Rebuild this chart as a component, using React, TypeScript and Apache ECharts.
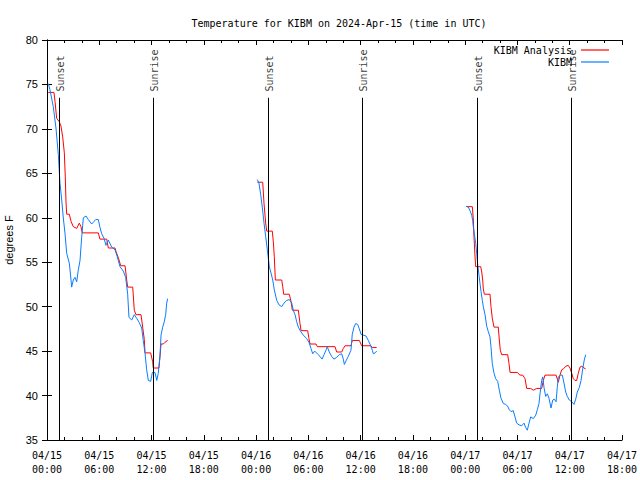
import React, { useEffect, useRef } from "react";
import * as echarts from "echarts";

// hours since 2024-04-15 00:00 UTC, temperature in °F
const analysisDay1: [number, number][] = [
  [0.15, 74.1], [0.8, 74.1], [0.92, 73.1], [1.11, 71.2], [1.41, 70.8], [1.61, 70.3], [1.8, 69.1],
  [1.99, 67.3], [2.1, 64.6], [2.18, 61.8], [2.26, 60.4], [2.56, 60.4], [2.76, 59.6], [3.02, 59.0],
  [3.41, 58.8], [3.71, 59.4], [3.9, 59.0], [4.05, 58.3], [5.89, 58.3], [6.08, 57.6], [6.85, 57.6],
  [7.04, 56.6], [7.81, 56.6], [7.92, 56.2], [8.19, 55.5], [8.46, 54.6], [8.96, 54.6], [9.15, 53.0],
  [9.26, 52.2], [9.84, 52.2], [10.02, 49.6], [10.21, 49.1], [10.79, 49.1], [10.98, 47.7], [11.17, 46.3],
  [11.25, 44.8], [11.9, 44.8], [12.13, 43.8], [12.2, 43.1], [12.85, 43.1], [12.97, 44.4], [13.09, 45.8],
  [13.35, 45.8], [13.55, 46.0], [13.85, 46.2],
];
const analysisDay2: [number, number][] = [
  [24.14, 64.0], [24.76, 64.0], [24.91, 61.6], [25.1, 59.4], [25.22, 58.5], [25.86, 58.5], [25.98, 57.3],
  [26.09, 55.6], [26.21, 53.0], [26.94, 53.0], [27.05, 52.3], [27.17, 51.4], [27.81, 51.4], [28.01, 50.6],
  [28.16, 49.6], [28.85, 49.6], [29.04, 48.1], [29.16, 47.3], [29.92, 47.3], [30.07, 46.4], [30.19, 45.8],
  [30.88, 45.8], [31.03, 45.5], [33.06, 45.5], [33.25, 44.9], [33.83, 44.9], [34.01, 45.3], [34.21, 45.6],
  [34.89, 45.6], [35.04, 46.2], [35.85, 46.2], [36.12, 45.6], [37.19, 45.6], [37.34, 45.4], [37.84, 45.4],
];
const analysisDay3: [number, number][] = [
  [48.17, 61.25], [48.82, 61.25], [48.93, 59.9], [49.01, 57.9], [49.13, 55.6], [49.21, 54.5], [49.78, 54.5],
  [49.9, 53.9], [50.01, 53.0], [50.08, 52.0], [50.2, 51.4], [50.85, 51.4], [50.96, 50.0], [51.11, 48.7],
  [51.31, 47.7], [51.8, 47.7], [51.92, 46.25], [52.03, 45.1], [52.19, 44.6], [52.88, 44.6], [53.03, 43.6],
  [53.15, 42.6], [53.98, 42.6], [54.29, 42.3], [54.6, 42.3], [54.87, 41.9], [55.06, 40.8], [55.52, 40.8],
  [55.82, 40.6], [56.21, 40.8], [56.78, 40.8], [56.97, 41.7], [57.16, 42.3], [58.43, 42.3], [58.69, 41.5],
  [58.88, 42.3], [59.08, 42.9], [59.26, 43.0], [59.57, 43.3], [59.83, 43.4], [60.03, 43.1], [60.23, 42.5],
  [60.41, 41.9], [60.61, 41.7], [60.8, 41.7], [60.98, 42.5], [61.18, 43.2], [61.38, 43.3], [61.64, 43.1],
  [61.83, 43.0],
];

const obsDay1: [number, number][] = [
  [0.15, 75.1], [0.34, 74.4], [0.72, 72.5], [1.03, 70.1], [1.3, 67.1], [1.49, 63.9], [1.69, 62.0],
  [1.85, 60.2], [2.07, 58.2], [2.26, 56.0], [2.56, 54.9], [2.76, 53.0], [2.83, 52.2], [3.02, 53.0],
  [3.21, 53.3], [3.41, 52.8], [3.59, 54.1], [3.79, 55.2], [3.98, 57.8], [4.17, 60.0], [4.48, 60.2],
  [4.74, 59.8], [5.13, 59.3], [5.32, 59.5], [5.59, 59.8], [5.89, 59.8], [6.08, 58.9], [6.28, 58.2],
  [6.54, 57.7], [6.77, 56.9], [7.04, 57.5], [7.42, 56.7], [7.81, 56.4], [8.07, 55.6], [8.38, 54.5],
  [8.76, 54.0], [9.03, 53.3], [9.26, 51.4], [9.41, 48.8], [9.72, 48.5], [10.02, 49.1], [10.29, 48.7],
  [10.59, 48.2], [10.87, 47.6], [11.05, 46.2], [11.25, 44.8], [11.44, 42.9], [11.63, 41.7], [11.9, 41.6],
  [12.09, 42.6], [12.4, 42.6], [12.6, 41.7], [12.77, 42.5], [12.97, 44.5], [13.09, 46.8], [13.28, 47.7],
  [13.46, 48.3], [13.62, 49.1], [13.74, 50.4], [13.85, 50.9],
];
const obsDay2: [number, number][] = [
  [24.14, 64.3], [24.33, 63.9], [24.53, 62.6], [24.71, 61.2], [24.91, 59.4], [25.1, 57.9], [25.29, 56.4],
  [25.52, 54.5], [25.71, 53.8], [25.91, 53.0], [26.09, 51.9], [26.37, 50.7], [26.63, 50.2], [26.94, 50.0],
  [27.2, 50.4], [27.51, 50.7], [27.81, 50.8], [28.09, 50.4], [28.27, 49.6], [28.47, 49.1], [28.66, 48.3],
  [28.85, 47.7], [29.12, 47.2], [29.42, 46.8], [29.81, 46.4], [30.07, 46.0], [30.3, 45.3], [30.5, 44.7],
  [30.73, 45.0], [31.03, 44.7], [31.34, 44.4], [31.57, 44.1], [31.8, 44.6], [32.02, 45.1], [32.17, 45.5],
  [32.4, 44.9], [32.68, 44.4], [32.94, 44.1], [33.25, 44.3], [33.55, 44.6], [33.83, 44.7], [34.01, 44.1],
  [34.13, 43.5], [34.32, 43.9], [34.58, 44.4], [34.89, 45.1], [35.04, 46.9], [35.24, 47.7], [35.43, 48.1],
  [35.66, 48.0], [35.85, 47.5], [36.04, 46.9], [36.31, 46.8], [36.62, 46.7], [36.88, 46.2], [37.16, 45.6],
  [37.34, 45.1], [37.46, 44.7], [37.65, 44.8], [37.84, 45.0],
];
const obsDay3: [number, number][] = [
  [48.09, 61.3], [48.36, 61.2], [48.55, 60.8], [48.75, 60.3], [48.86, 59.7], [48.93, 59.0], [49.05, 58.2],
  [49.21, 57.1], [49.32, 56.0], [49.44, 54.7], [49.59, 53.5], [49.7, 52.6], [49.82, 51.7], [49.97, 50.7],
  [50.08, 50.0], [50.28, 49.1], [50.47, 47.8], [50.65, 47.2], [50.85, 46.6], [50.96, 45.5], [51.11, 43.6],
  [51.31, 42.5], [51.5, 41.9], [51.73, 41.6], [51.92, 40.6], [52.11, 39.7], [52.38, 39.1], [52.65, 39.0],
  [52.88, 38.8], [53.06, 38.4], [53.26, 38.2], [53.52, 38.3], [53.72, 37.6], [53.91, 36.9], [54.18, 36.7],
  [54.49, 36.6], [54.75, 36.9], [54.95, 36.4], [55.13, 36.1], [55.33, 36.9], [55.52, 37.6], [55.82, 37.4],
  [56.1, 37.8], [56.28, 38.4], [56.47, 39.1], [56.59, 40.2], [56.78, 41.7], [56.9, 42.1], [57.05, 40.9],
  [57.24, 39.9], [57.43, 40.2], [57.62, 39.7], [57.85, 38.6], [58.05, 39.5], [58.23, 39.6], [58.43, 39.3],
  [58.57, 40.9], [58.69, 42.1], [58.96, 42.3], [59.15, 42.3], [59.34, 41.4], [59.54, 40.4], [59.72, 39.9],
  [59.95, 39.5], [60.23, 39.3], [60.49, 39.0], [60.69, 39.6], [60.87, 40.4], [61.1, 40.9], [61.3, 41.7],
  [61.49, 43.0], [61.67, 44.0], [61.83, 44.6],
];

const sunEventNames = ["Sunset", "Sunrise", "Sunset", "Sunrise", "Sunset", "Sunrise"];
const sunEventHours = [1.42, 12.15, 25.42, 36.18, 49.4, 60.17];

const xTickLabels = [
  "04/15\n00:00", "04/15\n06:00", "04/15\n12:00", "04/15\n18:00",
  "04/16\n00:00", "04/16\n06:00", "04/16\n12:00", "04/16\n18:00",
  "04/17\n00:00", "04/17\n06:00", "04/17\n12:00", "04/17\n18:00",
];

const MONO = "'DejaVu Sans Mono', 'Liberation Mono', monospace";
const SANS = "'Liberation Sans', Arial, sans-serif";

function joinSegments(segs: [number, number][][]) {
  const out: any[] = [];
  segs.forEach((s, i) => {
    if (i > 0) {
      const prev = segs[i - 1];
      out.push([(prev[prev.length - 1][0] + s[0][0]) / 2, null]);
    }
    s.forEach((p) => out.push(p));
  });
  return out;
}

export default function App() {
  const ref = useRef<HTMLDivElement>(null);
  useEffect(() => {
    const chart = echarts.init(ref.current!, null, { renderer: "svg" });
    const axisCommon = {
      type: "value" as const,
      axisLine: { show: true, lineStyle: { color: "#000", width: 1 } },
      splitLine: { show: false },
    };
    const option: any = {
      animation: false,
      backgroundColor: "#fff",
      title: {
        text: "Temperature for KIBM on 2024-Apr-15 (time in UTC)",
        left: 334,
        textAlign: "center",
        top: 13,
        textStyle: { fontFamily: MONO, fontSize: 10, fontWeight: "normal", color: "#000" },
      },
      legend: {
        orient: "vertical",
        right: 31,
        top: 45,
        padding: 0,
        align: "right",
        itemWidth: 28,
        itemHeight: 1.2,
        itemGap: 2,
        icon: "rect",
        data: ["KIBM Analysis", "KIBM"],
        textStyle: {
          fontFamily: MONO,
          fontSize: 10,
          color: "#000",
          width: 80,
          align: "right",
          padding: [0, 4, 0, 0],
        },
      },
      grid: { left: 47, right: 18, top: 40, bottom: 40, containLabel: false, outerBoundsMode: "none" },
      xAxis: [
        {
          ...axisCommon,
          position: "bottom",
          min: 0,
          max: 66,
          interval: 6,
          axisTick: { show: true, inside: true, length: 5, lineStyle: { color: "#000" } },
          minorTick: { show: true, splitNumber: 3, length: 3, lineStyle: { color: "#000" } },
          axisLabel: {
            show: true,
            margin: 8,
            color: "#000",
            fontFamily: MONO,
            fontSize: 10,
            lineHeight: 14,
            showMinLabel: true,
            showMaxLabel: true,
            formatter: (v: number) => xTickLabels[Math.round(v / 6)] ?? "",
          },
        },
        {
          ...axisCommon,
          position: "top",
          min: 0,
          max: 66,
          interval: 6,
          axisTick: { show: true, inside: true, length: 5, lineStyle: { color: "#000" } },
          minorTick: { show: true, splitNumber: 3, length: 3, lineStyle: { color: "#000" } },
          axisLabel: { show: false },
        },
      ],
      yAxis: [
        {
          ...axisCommon,
          position: "left",
          min: 35,
          max: 80,
          interval: 5,
          name: "degrees F",
          nameLocation: "middle",
          nameRotate: 90,
          nameGap: 32,
          nameTextStyle: { fontFamily: SANS, fontSize: 11, color: "#000" },
          axisTick: { show: true, inside: true, length: 5, lineStyle: { color: "#000" } },
          axisLabel: { color: "#000", fontFamily: SANS, fontSize: 11, margin: 9 },
        },
        {
          ...axisCommon,
          position: "right",
          min: 35,
          max: 80,
          interval: 5,
          axisTick: { show: true, inside: true, length: 5, lineStyle: { color: "#000" } },
          axisLabel: { show: false },
        },
      ],
      series: [
        {
          name: "sun-lines",
          type: "line",
          data: [],
          silent: true,
          markLine: {
            silent: true,
            symbol: ["none", "none"],
            label: { show: false },
            lineStyle: { color: "#000", width: 1, type: "solid" },
            data: sunEventHours.map((h) => [
              { coord: [h, 73.5] },
              { coord: [h, 35] },
            ]),
          },
        },
        {
          name: "sun-labels",
          type: "scatter",
          symbolSize: 0,
          silent: true,
          data: sunEventHours.map((h, i) => ({ value: [h + 0.17, 74.2], name: sunEventNames[i] })),
          label: {
            show: true,
            position: [0, 0],
            rotate: 90,
            align: "left",
            verticalAlign: "middle",
            formatter: "{b}",
            fontFamily: MONO,
            fontSize: 10,
            color: "#000",
          },
        },
        {
          name: "KIBM Analysis",
          type: "line",
          data: joinSegments([analysisDay1, analysisDay2, analysisDay3]),
          showSymbol: false,
          connectNulls: false,
          lineStyle: { color: "#ff0000", width: 1 },
          itemStyle: { color: "#ff0000" },
          z: 3,
        },
        {
          name: "KIBM",
          type: "line",
          data: joinSegments([obsDay1, obsDay2, obsDay3]),
          showSymbol: false,
          connectNulls: false,
          lineStyle: { color: "#0a7cff", width: 1 },
          itemStyle: { color: "#0a7cff" },
          z: 4,
        },
      ],
    };
    chart.setOption(option);
    return () => chart.dispose();
  }, []);
  return (
    <div
      ref={ref}
      style={{ position: "fixed", left: 0, top: 0, width: 640, height: 480 }}
    />
  );
}
